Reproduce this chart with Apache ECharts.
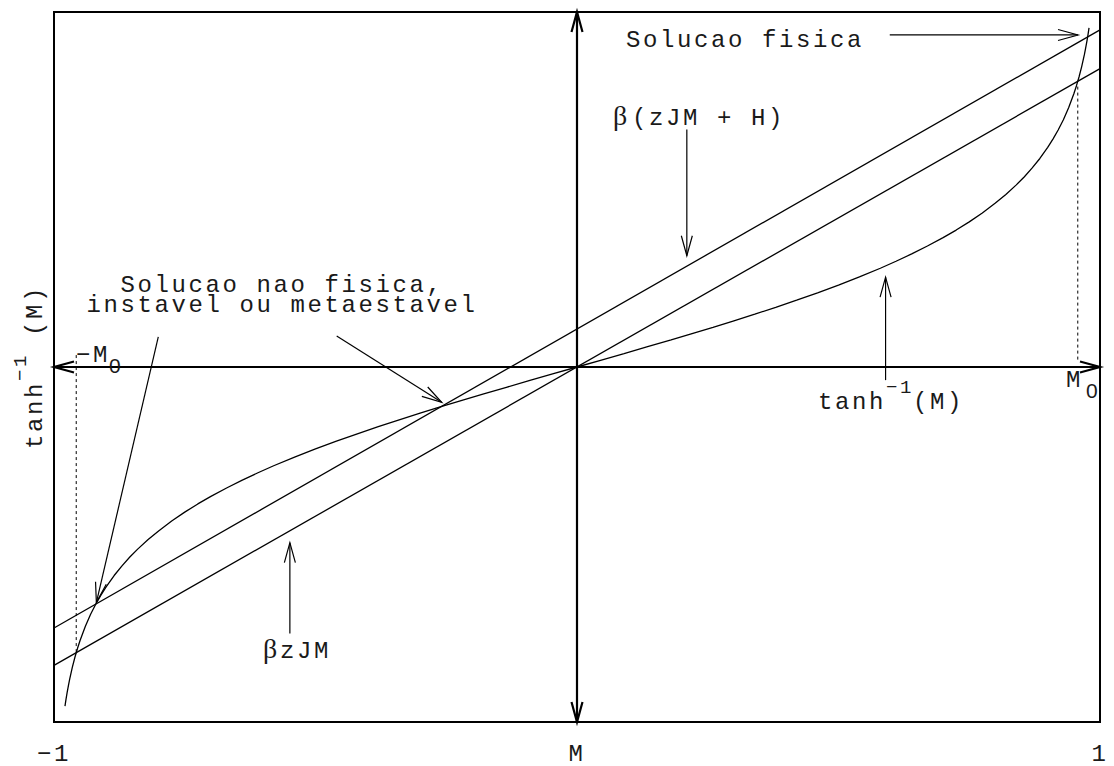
<!DOCTYPE html>
<html>
<head>
<meta charset="utf-8">
<script src="https://cdn.jsdelivr.net/npm/echarts@6/dist/echarts.min.js"></script>
<style>
  html, body { margin: 0; padding: 0; background: #fff; }
  #chart { width: 1114px; height: 766px; }
  /* typewriter-style spacing for the monospace labels */
  #chart svg text { letter-spacing: 2.6px; }
</style>
</head>
<body>
<div id="chart"></div>
<script>
// ---- values ----
// tanh^-1(M) curve, sampled along M
const curveM = [-0.979, -0.977, -0.975, -0.972, -0.97, -0.965, -0.96, -0.955, -0.95, -0.94, -0.93, -0.92, -0.91, -0.90,
  -0.885, -0.87, -0.855, -0.84, -0.82, -0.80, -0.775, -0.75, -0.725, -0.70, -0.67, -0.64, -0.61, -0.58, -0.54, -0.50,
  -0.46, -0.42, -0.38, -0.34, -0.30, -0.26, -0.22, -0.18, -0.135, -0.09, -0.045, 0,
  0.045, 0.09, 0.135, 0.18, 0.22, 0.26, 0.30, 0.34, 0.38, 0.42, 0.46, 0.50, 0.54, 0.58, 0.61, 0.64, 0.67, 0.70,
  0.725, 0.75, 0.775, 0.80, 0.82, 0.84, 0.855, 0.87, 0.885, 0.90, 0.91, 0.92, 0.93, 0.94, 0.95, 0.955, 0.96, 0.965,
  0.97, 0.972, 0.975, 0.977, 0.979];
const curveAtanh = [-2.273, -2.227, -2.185, -2.127, -2.092, -2.014, -1.946, -1.886, -1.832, -1.738, -1.658, -1.589, -1.528, -1.472,
  -1.398, -1.333, -1.274, -1.221, -1.157, -1.099, -1.033, -0.973, -0.918, -0.867, -0.811, -0.758, -0.709, -0.662, -0.604, -0.549,
  -0.497, -0.448, -0.400, -0.354, -0.310, -0.266, -0.224, -0.182, -0.136, -0.090, -0.045, 0,
  0.045, 0.090, 0.136, 0.182, 0.224, 0.266, 0.310, 0.354, 0.400, 0.448, 0.497, 0.549, 0.604, 0.662, 0.709, 0.758, 0.811, 0.867,
  0.918, 0.973, 1.033, 1.099, 1.157, 1.221, 1.274, 1.333, 1.398, 1.472, 1.528, 1.589, 1.658, 1.738, 1.832, 1.886, 1.946, 2.014,
  2.092, 2.127, 2.185, 2.227, 2.273];

// straight lines: betaZJM and beta(zJM + H), given at both ends of M
const lineM = [-1, 1];
const betaZJM = [-2.0, 2.0];
const betaZJMH = [-1.75, 2.26];

// spontaneous magnetization M0 and its dotted drop lines
const m0 = 0.9575;
const m0DropLeft = [0.08, -1.915];
const m0DropRight = [1.88, 0.04];

// axes
const xTickValues = [-1, 0, 1];
const xTickLabels = ['\u22121', 'M', '1'];
const yRange = [-2.38, 2.38];

// central axes with heads on both ends: [x1, y1, x2, y2]
const axisArrows = [
  [-1, 0, 1, 0],
  [0, yRange[0], 0, yRange[1]]
];
// pointer arrows: [fromM, fromV, toM, toV]
const pointerArrows = [
  [0.598, 2.226, 0.958, 2.226],
  [0.21, 1.592, 0.21, 0.746],
  [0.590, -0.088, 0.590, 0.602],
  [-0.549, -1.786, -0.549, -1.178],
  [-0.8006, 0.2016, -0.919, -1.579],
  [-0.4595, 0.208, -0.2587, -0.237]
];

// annotation texts, anchored in data coordinates
const annotations = [
  { at: [0.0937, 2.190], text: 'Solucao fisica', f: 'mono' },
  { at: [0.0688, 1.689], text: '\u03B2', f: 'beta' },
  { at: [0.1052, 1.668], text: '(zJM + H)', f: 'mono' },
  { at: [0.4608, -0.241], text: 'tanh', f: 'mono' },
  { at: [0.5908, -0.143], text: '\u22121', f: 'sup' },
  { at: [0.6424, -0.241], text: '(M)', f: 'mono' },
  { at: [-0.6004, -1.889], text: '\u03B2', f: 'beta' },
  { at: [-0.5679, -1.910], text: 'zJM', f: 'mono' },
  { at: [-0.5641, 0.480], text: 'Solucao nao fisica,\ninstavel ou metaestavel', f: 'block', align: 'center' },
  { at: [0.935, -0.0875], text: 'M', f: 'mono' },
  { at: [0.9732, -0.156], text: '0', f: 'digit' },
  { at: [-0.958, 0.0794], text: '\u2212M', f: 'mono' },
  { at: [-0.8949, 0.0107], text: '0', f: 'digit' }
];

// ---- styling ----
const INK = '#000';
const TEXT_INK = '#1a1a1a';
const MONO = "'Liberation Mono', 'DejaVu Sans Mono', monospace";
const FONTS = {
  mono: { fontSize: 24, fontFamily: MONO, lineHeight: 19 },
  block: { fontSize: 24, fontFamily: MONO, lineHeight: 20 },
  sup: { fontSize: 19, fontFamily: MONO, lineHeight: 15 },
  digit: { fontSize: 21, fontFamily: "'Liberation Sans', 'DejaVu Sans', sans-serif", lineHeight: 16 },
  beta: { fontSize: 28, fontFamily: "'Liberation Serif', 'DejaVu Serif', serif", lineHeight: 22 }
};
const HEAD_LEN = 20;
const HEAD_HALF = 5.5;

function pairs(xs, ys) { return xs.map((x, i) => [x, ys[i]]); }

function openHead(tip, from, lw) {
  const dx = tip[0] - from[0], dy = tip[1] - from[1];
  const len = Math.hypot(dx, dy) || 1;
  const ux = dx / len, uy = dy / len;
  const bx = tip[0] - ux * HEAD_LEN, by = tip[1] - uy * HEAD_LEN;
  return {
    type: 'polyline',
    shape: { points: [[bx - uy * HEAD_HALF, by + ux * HEAD_HALF], [tip[0], tip[1]], [bx + uy * HEAD_HALF, by - ux * HEAD_HALF]] },
    style: { stroke: INK, fill: null, lineWidth: lw }
  };
}

function arrowRenderer(lw, bothEnds) {
  return function (params, api) {
    const p1 = api.coord([api.value(0), api.value(1)]);
    const p2 = api.coord([api.value(2), api.value(3)]);
    const children = [
      { type: 'line', shape: { x1: p1[0], y1: p1[1], x2: p2[0], y2: p2[1] }, style: { stroke: INK, lineWidth: lw } },
      openHead(p2, p1, lw)
    ];
    if (bothEnds) children.push(openHead(p1, p2, lw));
    return { type: 'group', children };
  };
}

function textEl(text, f, x, y, align) {
  return {
    type: 'text', x, y,
    style: Object.assign({ text, fill: TEXT_INK, align: align || 'left', verticalAlign: 'middle',
      textAlign: align || 'left', textVerticalAlign: 'middle' }, FONTS[f])
  };
}

const chart = echarts.init(document.getElementById('chart'), null, { renderer: 'svg' });

chart.setOption({
  animation: false,
  backgroundColor: '#fff',
  grid: { left: 54, right: 14, top: 12, bottom: 41, show: true, borderColor: INK, borderWidth: 2, backgroundColor: 'transparent' },
  xAxis: {
    type: 'value', min: -1, max: 1, interval: 1,
    axisLine: { show: false }, axisTick: { show: false }, splitLine: { show: false },
    axisLabel: {
      color: TEXT_INK, fontSize: 24, fontFamily: MONO, margin: 32, verticalAlign: 'middle',
      formatter: v => xTickLabels[xTickValues.indexOf(v)] ?? ''
    }
  },
  yAxis: {
    type: 'value', min: yRange[0], max: yRange[1],
    axisLine: { show: false }, axisTick: { show: false }, splitLine: { show: false }, axisLabel: { show: false }
  },
  series: [
    { name: 'tanh^-1(M)', type: 'line', data: pairs(curveM, curveAtanh), symbol: 'none', smooth: false,
      lineStyle: { color: INK, width: 1.3 } },
    { name: 'betaZJM', type: 'line', data: pairs(lineM, betaZJM), symbol: 'none', lineStyle: { color: INK, width: 1.3 } },
    { name: 'betaZJMH', type: 'line', data: pairs(lineM, betaZJMH), symbol: 'none', lineStyle: { color: INK, width: 1.3 } },
    { name: '-M0', type: 'line', data: pairs([-m0, -m0], m0DropLeft), symbol: 'none',
      lineStyle: { color: INK, width: 1, type: [3, 3] } },
    { name: 'M0', type: 'line', data: pairs([m0, m0], m0DropRight), symbol: 'none',
      lineStyle: { color: INK, width: 1, type: [3, 3] } },
    { name: 'axes', type: 'custom', data: axisArrows, renderItem: arrowRenderer(2.2, true), clip: false, silent: true,
      encode: { x: [0, 2], y: [1, 3] } },
    { name: 'pointers', type: 'custom', data: pointerArrows, renderItem: arrowRenderer(1.2, false), clip: false, silent: true,
      encode: { x: [0, 2], y: [1, 3] } },
    { name: 'labels', type: 'custom', data: annotations.map(a => a.at), clip: false, silent: true,
      renderItem: function (params, api) {
        const a = annotations[params.dataIndex];
        const p = api.coord([api.value(0), api.value(1)]);
        return textEl(a.text, a.f, p[0], p[1], a.align);
      } },
    { name: 'yTitle', type: 'custom', data: [[-1, 0]], clip: false, silent: true,
      renderItem: function (params, api) {
        const p = api.coord([api.value(0), api.value(1)]);
        return {
          type: 'group', x: p[0] - 18.4, y: p[1], rotation: Math.PI / 2,
          children: [
            textEl('tanh', 'mono', -82, 0),
            textEl('\u22121', 'sup', -14, -14.5),
            textEl(' (M)', 'mono', 14, 0)
          ]
        };
      } }
  ]
});
</script>
</body>
</html>
